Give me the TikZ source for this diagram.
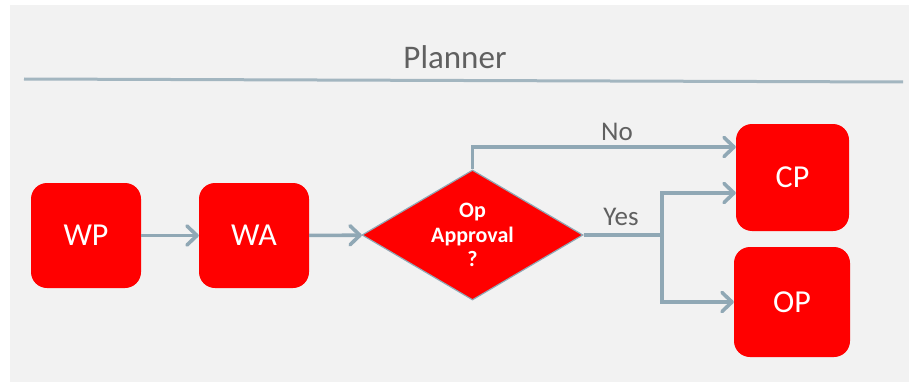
\documentclass[tikz,border=0pt]{standalone}
\usepackage{fontspec}
\setmainfont{Carlito}
\usetikzlibrary{shapes.geometric,arrows.meta}
\definecolor{bgc}{HTML}{F2F2F2}
\definecolor{redc}{HTML}{FF0000}
\definecolor{linec}{HTML}{90A8B5}
\definecolor{rulec}{HTML}{A3B6C0}
\definecolor{txtc}{HTML}{606060}
\begin{document}
\begin{tikzpicture}[x=1pt,y=-1pt,
  box/.style={fill=redc, rounded corners=16pt, text=white,
    font=\fontsize{32}{32}\selectfont, inner sep=0pt},
  decision/.style={diamond, fill=redc, draw=linec, line width=1.2pt, text=white,
    align=center, inner sep=0pt, aspect=1.7, minimum width=221pt, minimum height=130pt,
    font=\fontsize{22}{24.5}\selectfont\bfseries},
  conn/.style={draw=linec, line width=3.6pt,
    -{Straight Barb[length=10pt,width=19pt,round]}},
  seg/.style={draw=linec, line width=3.6pt},
  lbl/.style={text=txtc, font=\fontsize{27}{27}\selectfont, inner sep=0pt, anchor=base}
]
\useasboundingbox (0,0) rectangle (909,385);
\fill[white] (0,0) rectangle (909,385);
\fill[bgc] (10,5) rectangle (909,382);
% title and rule
\node[lbl, font=\fontsize{33}{33}\selectfont] (title) at (455,69) {Planner};
\coordinate (rl) at (24,79);
\coordinate (rr) at (903,82);
\draw[rulec, line width=3pt] (rl) -- (rr);
% nodes
\node[box, minimum width=110pt, minimum height=105pt] (wp) at (86,235.5) {WP};
\node[box, minimum width=110pt, minimum height=105pt] (wa) at (254,235.5) {WA};
\node[decision] (dia) at (472.5,235) {Op\\Approval\\?};
\node[box, minimum width=113pt, minimum height=107pt] (cp) at (792.5,177.5) {CP};
\node[box, minimum width=116pt, minimum height=110pt] (op) at (792,302) {OP};
% connectors
\draw[conn] (wp) -- (wa);
\draw[conn] (wa) -- (dia);
\draw[conn] (dia.north) |- ([yshift=30.5pt]cp.west);
\coordinate (jn) at (662,235);
\draw[seg] (dia.east) -- (jn);
\draw[conn] (jn) |- ([yshift=-15.5pt]cp.west);
\draw[conn] (jn) |- (op.west);
% labels
\node[lbl] (no) at (617,140) {No};
\node[lbl] (yes) at (621,225) {Yes};
\end{tikzpicture}
\end{document}
